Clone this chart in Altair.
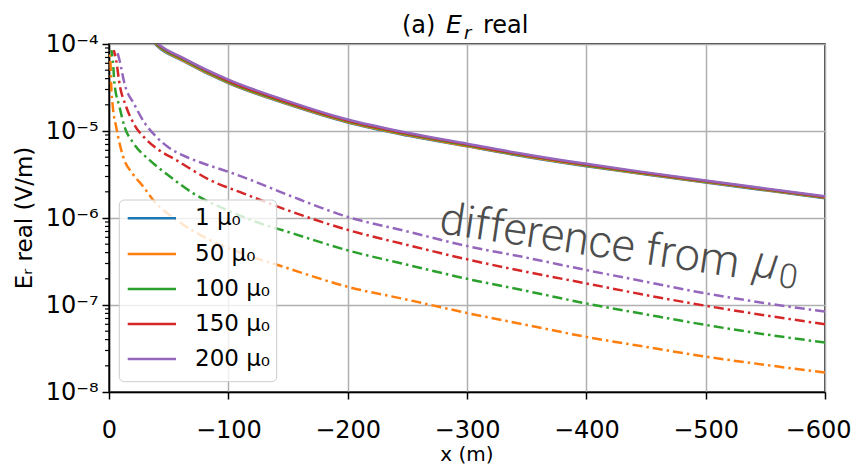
import altair as alt
import pandas as pd

series = ["1 μ₀", "50 μ₀", "100 μ₀", "150 μ₀", "200 μ₀"]
colors = ["#1f77b4", "#ff7f0e", "#2ca02c", "#d62728", "#9467bd"]

# total field E_r real (solid lines)
x_total = [-30, -40, -62, -100, -150, -200, -250, -300, -350, -400, -450, -500, -550, -600]
total_1 = [1.40e-4, 9.6e-5, 6.4e-5, 3.55e-5, 2.02e-5, 1.25e-5, 8.85e-6, 6.66e-6, 5.03e-6, 3.94e-6, 3.16e-6, 2.56e-6, 2.08e-6, 1.69e-6]
total_50 = [1.421e-4, 9.75e-5, 6.48e-5, 3.596e-5, 2.047e-5, 1.266e-5, 8.965e-6, 6.741e-6, 5.089e-6, 3.983e-6, 3.193e-6, 2.586e-6, 2.101e-6, 1.707e-6]
total_100 = [1.458e-4, 1.0e-4, 6.63e-5, 3.672e-5, 2.09e-5, 1.2925e-5, 9.14e-6, 6.86e-6, 5.175e-6, 4.044e-6, 3.238e-6, 2.619e-6, 2.126e-6, 1.727e-6]
total_150 = [1.478e-4, 1.024e-4, 6.82e-5, 3.775e-5, 2.142e-5, 1.323e-5, 9.34e-6, 6.995e-6, 5.27e-6, 4.117e-6, 3.29e-6, 2.658e-6, 2.156e-6, 1.75e-6]
total_200 = [1.5e-4, 1.039e-4, 6.93e-5, 3.9e-5, 2.205e-5, 1.353e-5, 9.55e-6, 7.136e-6, 5.38e-6, 4.192e-6, 3.345e-6, 2.696e-6, 2.185e-6, 1.774e-6]

# difference from mu0 (dash-dot lines)
x_d50 = [-0.6, -1.2, -1.8, -3.2, -6, -12, -20, -28.7, -37, -56.5, -84.4, -112, -146, -200, -250, -300, -350, -400, -450, -500, -550, -600]
d50 = [8.5e-5, 6.5e-5, 3.5e-5, 1.9e-5, 1.12e-5, 5.0e-6, 3.2e-6, 2.3e-6, 1.61e-6, 9.5e-7, 5.6e-7, 3.9e-7, 2.75e-7, 1.62e-7, 1.15e-7, 8.1e-8, 5.9e-8, 4.3e-8, 3.3e-8, 2.55e-8, 2.05e-8, 1.67e-8]
x_d100 = [-2, -3.2, -4.6, -8.8, -13, -20, -34.3, -51, -70.6, -98.6, -126.6, -148.8, -200, -250, -300, -350, -400, -450, -500, -550, -600]
d100 = [8.5e-5, 6.5e-5, 3.5e-5, 1.9e-5, 1.12e-5, 7.4e-6, 4.6e-6, 3.0e-6, 1.92e-6, 1.24e-6, 8.7e-7, 7.0e-7, 4.25e-7, 2.9e-7, 2.0e-7, 1.45e-7, 1.04e-7, 7.8e-8, 5.9e-8, 4.6e-8, 3.7e-8]
x_d150 = [-4, -6, -8.8, -14.4, -21.4, -30, -40, -56.7, -84.6, -112.5, -148.8, -200, -250, -300, -350, -400, -450, -500, -550, -600]
d150 = [8.5e-5, 6.5e-5, 3.5e-5, 1.9e-5, 1.17e-5, 8.3e-6, 6.3e-6, 4.6e-6, 2.73e-6, 1.92e-6, 1.24e-6, 7.3e-7, 4.9e-7, 3.35e-7, 2.4e-7, 1.77e-7, 1.3e-7, 9.8e-8, 7.6e-8, 6.0e-8]
x_d200 = [-6.5, -8.8, -13, -21.4, -30, -40, -50, -62, -76.3, -100, -112.5, -150, -200, -250, -300, -350, -400, -450, -500, -550, -600]
d200 = [8.5e-5, 6.5e-5, 3.5e-5, 2.0e-5, 1.23e-5, 8.5e-6, 6.45e-6, 5.25e-6, 4.37e-6, 3.4e-6, 2.95e-6, 1.84e-6, 1.03e-6, 7.0e-7, 4.76e-7, 3.5e-7, 2.52e-7, 1.85e-7, 1.36e-7, 1.05e-7, 8.4e-8]

x_ticks = [0, -100, -200, -300, -400, -500, -600]
y_decades = [1e-8, 1e-7, 1e-6, 1e-5, 1e-4]
y_minor = [k * d for d in [1e-8, 1e-7, 1e-6, 1e-5] for k in range(2, 10)]

FONT = "DejaVu Sans"

rows = []
for s, ys in zip(series, [total_1, total_50, total_100, total_150, total_200]):
    for xv, yv in zip(x_total, ys):
        rows.append({"series": s, "x": xv, "y": yv})
df_total = pd.DataFrame(rows)

rows = []
for s, xs, ys in zip(series[1:], [x_d50, x_d100, x_d150, x_d200], [d50, d100, d150, d200]):
    for xv, yv in zip(xs, ys):
        rows.append({"series": s, "x": xv, "y": yv})
df_diff = pd.DataFrame(rows)

df_minor = pd.DataFrame({"y": y_minor})

xscale = alt.Scale(domain=[0, -600], nice=False, zero=False)
yscale = alt.Scale(type="log", domain=[1e-8, 1e-4], nice=False)
cscale = alt.Scale(domain=series, range=colors)

X = alt.X("x:Q", scale=xscale, axis=alt.Axis(
    values=x_ticks, title=None, grid=True, gridColor="#b0b0b0", gridWidth=1.5,
    tickSize=7, tickWidth=1.5, tickColor="black", domainColor="black", domainWidth=1.5,
    labelFontSize=24, labelFont=FONT, labelColor="black", labelPadding=19, labelFlush=False,
    labelOffset=alt.condition("datum.value <= -599", alt.value(-7), alt.value(0))))

label_expr = ("'10' + (datum.value < 5e-8 ? '⁻⁸' : datum.value < 5e-7 ? '⁻⁷' : "
              "datum.value < 5e-6 ? '⁻⁶' : datum.value < 5e-5 ? '⁻⁵' : '⁻⁴')")
Y = alt.Y("y:Q", scale=yscale, axis=alt.Axis(
    values=y_decades, title=None, grid=True, gridColor="#b0b0b0", gridWidth=1.5,
    tickSize=7, tickWidth=1.5, tickColor="black", domainColor="black", domainWidth=1.5,
    labelFontSize=24, labelFont=FONT, labelColor="black", labelPadding=4,
    labelExpr=label_expr, labelFlush=False))

color = alt.Color("series:N", scale=cscale, sort=series, legend=None)

solid = alt.Chart(df_total).mark_line(clip=True, strokeWidth=2.5, interpolate="monotone").encode(
    x=X, y=Y, color=color, order=alt.Order("x:Q"))

dash = alt.Chart(df_diff).mark_line(clip=True, strokeWidth=2.5, interpolate="monotone",
                                   strokeDash=[10, 4, 2.5, 4]).encode(
    x=X, y=Y, color=color, order=alt.Order("x:Q"))

minor = alt.Chart(df_minor).mark_rule(color="black", strokeWidth=1.2).encode(
    y=Y, x=alt.value(-4), x2=alt.value(0))

# legend (lower-left corner of the axes)
leg_rows = [174.3, 210, 245, 280, 315]
df_leg = pd.DataFrame({"series": series, "ly": leg_rows})
leg_box = alt.Chart(pd.DataFrame({"a": [0]})).mark_rect(
    fill="white", fillOpacity=0.8, stroke="#cccccc", strokeWidth=1, cornerRadius=5).encode(
    x=alt.value(10.3), x2=alt.value(167.7), y=alt.value(156), y2=alt.value(337.7))
leg_lines = alt.Chart(df_leg).mark_rule(strokeWidth=2.5).encode(
    x=alt.value(18.7), x2=alt.value(67), y=alt.Y("ly:Q", scale=None, axis=None),
    color=color)
leg_text = alt.Chart(df_leg).mark_text(align="left", baseline="middle", fontSize=23,
                                       font=FONT, color="black").encode(
    x=alt.value(86), y=alt.Y("ly:Q", scale=None, axis=None), text="series:N")


def txt(s, x, y, size, align="left", baseline="alphabetic", angle=0, font=FONT,
        style="normal", weight="normal", color="black"):
    return alt.Chart(pd.DataFrame({"t": [s]})).mark_text(
        fontSize=size, font=font, align=align, baseline=baseline, angle=angle,
        fontStyle=style, fontWeight=weight, color=color).encode(
        x=alt.value(x), y=alt.value(y), text="t:N")


title_parts = [
    txt("(a)", 293, -11, 24),
    txt("E", 337, -11, 25, style="italic"),
    txt("r", 355, -5, 18, style="italic"),
    txt("real", 374, -11, 24),
]
y_title = txt("Eᵣ real (V/m)", -84, 174, 23, align="center", baseline="middle", angle=270)
x_title = txt("x (m)", 358, 417, 20, align="center", baseline="alphabetic")

ann = [
    txt("difference from", 329, 189, 45, angle=8.5, font="Roboto", weight=300, color="#4d4d4d"),
    txt("μ", 643, 232, 45, angle=8.5, font="Roboto", weight=300, style="italic", color="#4d4d4d"),
    txt("0", 679, 234, 34, align="center", baseline="middle", angle=8.5, font="Roboto",
        weight=300, color="#4d4d4d"),
]

chart = alt.layer(solid, dash, minor, leg_box, leg_lines, leg_text, *title_parts,
                  y_title, x_title, *ann).properties(
    width=716, height=348,
    autosize=alt.AutoSizeParams(type="none"),
    padding={"left": 101, "top": 36, "right": 27, "bottom": 74},
).configure_view(stroke="black", strokeWidth=1.5)

chart.save("out.html", embed_options={"renderer": "svg", "actions": False})
